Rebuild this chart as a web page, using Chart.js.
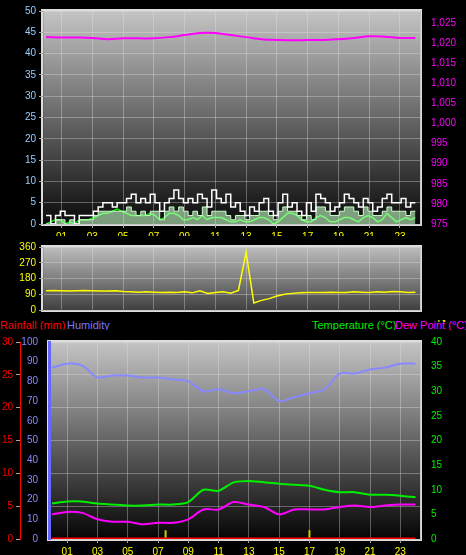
<!DOCTYPE html>
<html><head><meta charset="utf-8">
<script src="https://cdn.jsdelivr.net/npm/chart.js@4"></script>
<style>
body{margin:0;background:#000;width:466px;height:555px;overflow:hidden;position:relative;font-family:"Liberation Sans",Arial,sans-serif;font-size:11px}
canvas{position:absolute;left:0}
.t{position:absolute;white-space:nowrap}
</style></head><body>
<div class="t" style="left:35px;top:-1px;color:#fff">Windspeed (kph)</div>
<div class="t" style="left:173px;top:-1px;color:#ff0">24 hour graph day : 02 December 2025</div>
<div class="t" style="left:372px;top:-1px;color:#f0f">Barometer (hpa)</div>
<div class="t" style="left:436px;top:237px;color:#ff0;font-size:12px;line-height:18px;text-align:center">N<br>W<br>S<br>E<br>N</div>
<div class="t" style="left:0;top:319px;color:#f00">Rainfall (mm)</div>
<div class="t" style="left:67px;top:319px;color:#77f">Humidity</div>
<div class="t" style="left:312px;top:319px;color:#0e0">Temperature (°C)</div>
<div class="t" style="left:395px;top:319px;color:#f0f">Dew Point (°C)</div>
<canvas id="c1" style="top:0" width="466" height="240"></canvas>
<canvas id="c2" style="top:236px" width="466" height="84"></canvas>
<canvas id="c3" style="top:330px" width="466" height="225"></canvas>
<script>
const hours = [0,1,2,3,4,5,6,7,8,9,10,11,12,13,14,15,16,17,18,19,20,21,22,23,24];
const halfHours = [0,0.5,1,1.5,2,2.5,3,3.5,4,4.5,5,5.5,6,6.5,7,7.5,8,8.5,9,9.5,10,10.5,11,11.5,12,12.5,13,13.5,14,14.5,15,15.5,16,16.5,17,17.5,18,18.5,19,19.5,20,20.5,21,21.5,22,22.5,23,23.5,24];
const tickHours = [1,3,5,7,9,11,13,15,17,19,21,23];
const barometer = [1021.5,1021.4,1021.4,1021.3,1021.0,1021.2,1021.2,1021.2,1021.5,1022.0,1022.5,1022.5,1022.0,1021.5,1021.0,1020.8,1020.7,1020.8,1020.8,1021.0,1021.3,1021.7,1021.6,1021.3,1021.3];
const windGust = [2,0,2,3,2,2,0,2,2,2,3,4,5,5,4,5,5,6,7,5,6,5,7,5,3,5,6,8,6,5,6,5,7,6,4,8,6,5,7,4,5,3,2,4,3,5,6,3,2,5,7,4,5,3,2,5,3,7,6,5,3,4,5,7,6,5,4,6,5,3,4,6,7,5,5,6,4,5,5];
const windSpeed = [0,0,1,1,0,1,0,1,1,1,2,3,3,3,3,3,3,4,3,2,3,2,3,3,1,3,4,3,4,3,2,3,2,4,2,3,3,3,2,1,2,2,1,2,2,3,3,2,1,3,4,3,3,2,1,2,1,4,4,3,2,2,3,4,4,3,2,4,3,2,2,3,4,3,3,3,2,3,3];
const windAvg = [0,0.5,1,1,0,0.5,0,1,1,1,1.5,2,2.5,2.5,3,3.5,3,2.5,2,2,2,2,2.5,2,1,1.5,2.5,2.5,2,1,1,1.5,1,2,1,1.5,1.5,1.5,1,0.5,0.5,1,0.5,0.5,1,1.5,1.5,1,0,0.5,1.5,2.5,2.5,2,1,0.5,0.5,1.5,2,1.5,0.5,0.5,1,1.5,1.5,1,0.5,1.5,2,1.5,0.5,1,2.5,1.5,0.5,1,1.5,1,1.5];
const direction = [110,112,110,108,110,112,110,108,108,110,106,104,102,104,102,100,102,100,104,98,110,95,100,104,96,112,330,40,55,65,80,90,95,98,100,100,100,102,100,100,104,102,100,104,102,106,104,100,102];
const humidity = [87,89,88,82,83,83,82,82,81,80,75,76,74,75,76,70,72,74,76,84,84,86,87,89,89];
const temperature = [7.2,7.6,7.6,7.2,7.0,6.8,6.8,7.0,7.0,7.5,10.0,9.8,11.5,11.8,11.5,11.2,11.0,10.8,10.0,9.5,9.5,9.0,9.0,8.8,8.5];
const dewPoint = [5.0,5.5,5.3,4.0,3.5,3.5,3.0,3.3,3.3,4.0,6.0,6.0,7.5,7.0,6.5,5.0,6.0,6.0,6.0,6.5,6.8,6.5,6.8,7.0,7.0];
const rainfall = [0,0,0,0,0,0,0,0,0,0,0,0,0,0,0,0,0,0,0,0,0,0,0,0,0];
const markerHours = [7.5,17];
const markerHeight = 1.8;

const windHours = windGust.map((_, i) => i * 24 / (windGust.length - 1));
const pts = (xs, ys) => ys.map((y, i) => ({x: xs[i], y}));
const markerPts = [];
markerHours.forEach(h => { markerPts.push({x:h,y:0},{x:h,y:markerHeight},{x:h,y:null}); });

const bgPlugin = {
  id: 'bg',
  defaults: {top: '#c4c4c4', bottom: '#0a0a0a'},
  beforeDraw(chart, args, opts) {
    const {ctx, chartArea: a} = chart;
    const g = ctx.createLinearGradient(0, a.top, 0, a.bottom);
    g.addColorStop(0, opts.top || '#c4c4c4'); g.addColorStop(1, opts.bottom || '#0a0a0a');
    ctx.fillStyle = '#000'; ctx.fillRect(0, 0, chart.width, chart.height);
    ctx.fillStyle = g; ctx.fillRect(a.left, a.top, a.right - a.left, a.bottom - a.top);
    ctx.strokeStyle = '#ddd'; ctx.lineWidth = 2;
    ctx.strokeRect(a.left - 1, a.top - 1, a.right - a.left + 2, a.bottom - a.top + 2);
  }
};
const font = {family: 'Liberation Sans', size: 10};
const grid = {color: 'rgba(230,230,230,0.35)', lineWidth: 1, drawTicks: true, tickLength: 4, tickColor: '#aaa'};
function xScale(showLabels) {
  return {type: 'linear', min: -0.2, max: 24.3, grid: {...grid, tickLength: showLabels ? 4 : 0},
    afterBuildTicks: s => { s.ticks = tickHours.map(v => ({value: v})); },
    ticks: {display: showLabels, color: '#ff0', font, callback: v => String(v).padStart(2, '0')},
    afterFit: s => { s.height = showLabels ? 16 : 2; }};
}
function fixW(w) { return s => { s.width = w; }; }
const baseOpts = {responsive: false, animation: false, elements: {point: {radius: 0}}};
const plug = (top, bottom) => ({legend: {display: false}, tooltip: {enabled: false}, bg: {top, bottom}});

new Chart(document.getElementById('c1'), {
  type: 'line',
  data: {datasets: [
    {data: pts(hours, barometer), yAxisID: 'yb', borderColor: '#f0f', borderWidth: 2, tension: 0.4},
    {data: pts(windHours, windGust), yAxisID: 'y', borderColor: '#fff', borderWidth: 1.5, stepped: true},
    {data: pts(windHours, windSpeed), yAxisID: 'y', borderColor: '#cfc', backgroundColor: 'rgba(200,255,200,0.6)', fill: 'origin', borderWidth: 1, stepped: true},
    {data: pts(windHours, windAvg), yAxisID: 'y', borderColor: '#0e0', borderWidth: 1.5}
  ]},
  options: {...baseOpts, layout: {padding: {top: 11, bottom: 0}},
    plugins: plug('#c4c4c4', '#0a0a0a'),
    scales: {
      x: xScale(true),
      y: {position: 'left', min: 0, max: 50, ticks: {stepSize: 5, color: '#9cf', font}, grid, afterFit: fixW(43)},
      yb: {position: 'right', min: 975, max: 1028, grid: {display: false, drawTicks: true, tickColor: '#f0f'},
        afterBuildTicks: s => { s.ticks = [975,980,985,990,995,1000,1005,1010,1015,1020,1025].map(v => ({value: v})); },
        ticks: {color: '#f0f', font}, afterFit: fixW(46)}
    }},
  plugins: [bgPlugin]
});

new Chart(document.getElementById('c2'), {
  type: 'line',
  data: {datasets: [{data: pts(halfHours, direction), borderColor: '#ff0', borderWidth: 1.5}]},
  options: {...baseOpts, layout: {padding: {top: 11, bottom: 8}},
    plugins: plug('#bdbdbd', '#404040'),
    scales: {
      x: xScale(false),
      y: {position: 'left', min: 0, max: 360, ticks: {stepSize: 90, color: '#ff0', font}, grid, afterFit: fixW(43)},
      y2: {position: 'right', min: 0, max: 360, ticks: {display: false}, grid: {display: false}, afterFit: fixW(46)}
    }},
  plugins: [bgPlugin]
});

new Chart(document.getElementById('c3'), {
  type: 'line',
  data: {datasets: [
    {data: pts(hours, humidity), yAxisID: 'yh', borderColor: '#88f', borderWidth: 2, tension: 0.3},
    {data: pts(hours, temperature), yAxisID: 'yt', borderColor: '#0e0', borderWidth: 2, tension: 0.3},
    {data: pts(hours, dewPoint), yAxisID: 'yt', borderColor: '#f0f', borderWidth: 2, tension: 0.3},
    {data: pts(hours, rainfall), yAxisID: 'yr', borderColor: '#f00', borderWidth: 3},
    {data: markerPts, yAxisID: 'yt', borderColor: '#cc0', borderWidth: 2, spanGaps: false}
  ]},
  options: {...baseOpts, layout: {padding: {top: 12, bottom: 0}},
    plugins: plug('#c4c4c4', '#050505'),
    scales: {
      x: xScale(true),
      yh: {position: 'left', min: 0, max: 100, ticks: {stepSize: 10, color: '#88f', font}, grid: {display: false, drawTicks: true, tickColor: '#88f'}, border: {color: '#66f', width: 3}, afterFit: fixW(29)},
      yr: {position: 'left', min: 0, max: 30, ticks: {stepSize: 5, color: '#f00', font}, grid, border: {color: '#f00', width: 1}, afterFit: fixW(20)},
      yt: {position: 'right', min: 0, max: 40, ticks: {stepSize: 5, color: '#0e0', font}, grid: {display: false, drawTicks: true, tickColor: '#0e0'}, afterFit: fixW(46)}
    }},
  plugins: [bgPlugin]
});
</script>
</body></html>
